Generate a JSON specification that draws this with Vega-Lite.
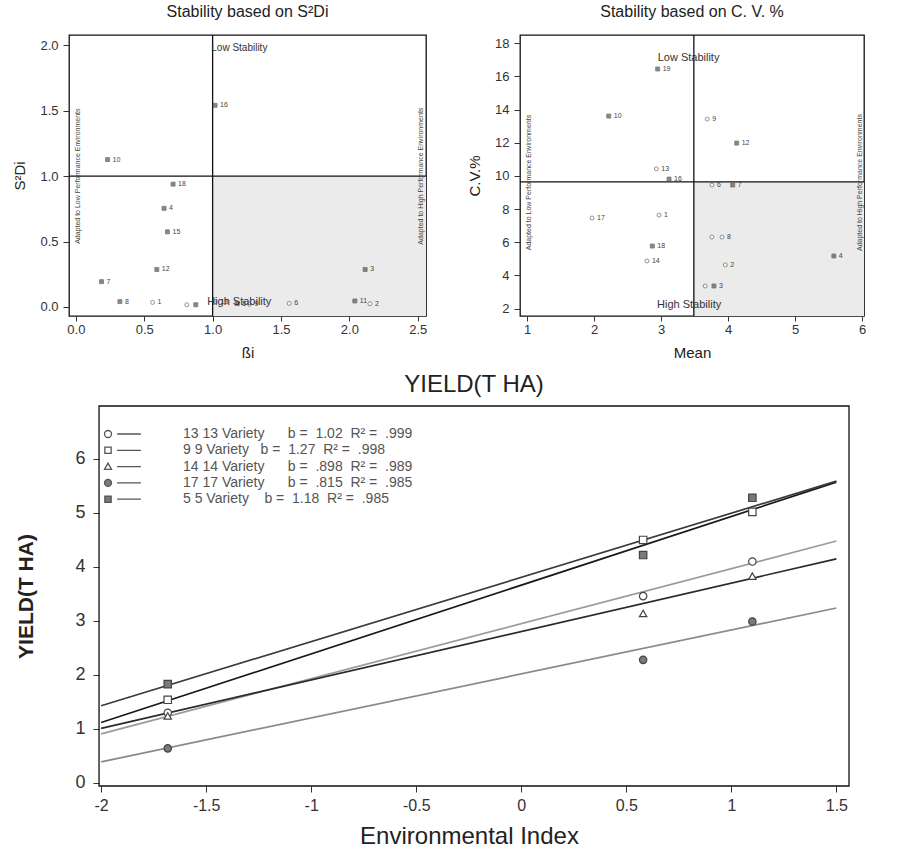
{
  "$schema": "https://vega.github.io/schema/vega-lite/v6.json",
  "padding": {"left": 12, "top": 3, "right": 5, "bottom": 0},
  "background": "white",
  "datasets": {
    "s2di": [
      {"g": "1", "bi": 0.561, "s2di": 0.034, "t": "open", "lab": "1"},
      {"g": "2", "bi": 2.15, "s2di": 0.024, "t": "open", "lab": "2"},
      {"g": "3", "bi": 2.115, "s2di": 0.286, "t": "filled", "lab": "3"},
      {"g": "4", "bi": 0.645, "s2di": 0.754, "t": "filled", "lab": "4"},
      {"g": "5", "bi": 1.18, "s2di": 0.025, "t": "filled", "lab": "5"},
      {"g": "6", "bi": 1.56, "s2di": 0.026, "t": "open", "lab": "6"},
      {"g": "7", "bi": 0.188, "s2di": 0.193, "t": "filled", "lab": "7"},
      {"g": "8", "bi": 0.322, "s2di": 0.04, "t": "filled", "lab": "8"},
      {"g": "9", "bi": 1.27, "s2di": 0.02, "t": "open", "lab": "9"},
      {"g": "10", "bi": 0.232, "s2di": 1.127, "t": "filled", "lab": "10"},
      {"g": "11", "bi": 2.04, "s2di": 0.045, "t": "filled", "lab": "11"},
      {"g": "12", "bi": 0.592, "s2di": 0.286, "t": "filled", "lab": "12"},
      {"g": "13", "bi": 1.02, "s2di": 0.04, "t": "open", "lab": "13"},
      {"g": "14", "bi": 0.877, "s2di": 0.016, "t": "filled", "lab": ""},
      {"g": "15", "bi": 0.67, "s2di": 0.574, "t": "filled", "lab": "15"},
      {"g": "16", "bi": 1.018, "s2di": 1.542, "t": "filled", "lab": "16"},
      {"g": "17", "bi": 0.811, "s2di": 0.016, "t": "open", "lab": ""},
      {"g": "18", "bi": 0.711, "s2di": 0.939, "t": "filled", "lab": "18"}
    ],
    "cv": [
      {"g": "1", "mean": 2.97, "cv": 7.64, "t": "open", "lab": "1"},
      {"g": "2", "mean": 3.96, "cv": 4.63, "t": "open", "lab": "2"},
      {"g": "3", "mean": 3.79, "cv": 3.36, "t": "filled", "lab": "3"},
      {"g": "4", "mean": 5.58, "cv": 5.17, "t": "filled", "lab": "4"},
      {"g": "5", "mean": 3.66, "cv": 3.36, "t": "open", "lab": ""},
      {"g": "6", "mean": 3.76, "cv": 9.45, "t": "open", "lab": "6"},
      {"g": "7", "mean": 4.07, "cv": 9.45, "t": "filled", "lab": "7"},
      {"g": "8", "mean": 3.91, "cv": 6.31, "t": "open", "lab": "8"},
      {"g": "9", "mean": 3.69, "cv": 13.43, "t": "open", "lab": "9"},
      {"g": "10", "mean": 2.22, "cv": 13.61, "t": "filled", "lab": "10"},
      {"g": "11", "mean": 3.76, "cv": 6.31, "t": "open", "lab": ""},
      {"g": "12", "mean": 4.13, "cv": 11.98, "t": "filled", "lab": "12"},
      {"g": "13", "mean": 2.93, "cv": 10.42, "t": "open", "lab": "13"},
      {"g": "14", "mean": 2.79, "cv": 4.87, "t": "open", "lab": "14"},
      {"g": "16", "mean": 3.12, "cv": 9.81, "t": "filled", "lab": "16"},
      {"g": "17", "mean": 1.97, "cv": 7.46, "t": "open", "lab": "17"},
      {"g": "18", "mean": 2.87, "cv": 5.77, "t": "filled", "lab": "18"},
      {"g": "19", "mean": 2.95, "cv": 16.45, "t": "filled", "lab": "19"}
    ],
    "fits": [
      {"v": "13", "x1": -2, "y1": 0.91, "x2": 1.5, "y2": 4.48},
      {"v": "9", "x1": -2, "y1": 1.12, "x2": 1.5, "y2": 5.57},
      {"v": "14", "x1": -2, "y1": 1.01, "x2": 1.5, "y2": 4.15},
      {"v": "17", "x1": -2, "y1": 0.39, "x2": 1.5, "y2": 3.24},
      {"v": "5", "x1": -2, "y1": 1.43, "x2": 1.5, "y2": 5.59}
    ],
    "yields": [
      {"v": "13", "ei": -1.683, "yld": 1.3},
      {"v": "13", "ei": 0.58, "yld": 3.46},
      {"v": "13", "ei": 1.1, "yld": 4.1},
      {"v": "9", "ei": -1.683, "yld": 1.54},
      {"v": "9", "ei": 0.58, "yld": 4.5},
      {"v": "9", "ei": 1.1, "yld": 5.02},
      {"v": "14", "ei": -1.683, "yld": 1.24},
      {"v": "14", "ei": 0.58, "yld": 3.14},
      {"v": "14", "ei": 1.1, "yld": 3.83},
      {"v": "17", "ei": -1.683, "yld": 0.64},
      {"v": "17", "ei": 0.58, "yld": 2.28},
      {"v": "17", "ei": 1.1, "yld": 2.99},
      {"v": "5", "ei": -1.683, "yld": 1.83},
      {"v": "5", "ei": 0.58, "yld": 4.22},
      {"v": "5", "ei": 1.1, "yld": 5.28}
    ],
    "legend": [
      {"lab": "13\u00a013 Variety\u00a0\u00a0\u00a0\u00a0\u00a0\u00a0b =\u00a0\u00a01.02\u00a0\u00a0R² =\u00a0\u00a0.999"},
      {"lab": "9\u00a09 Variety\u00a0\u00a0\u00a0b =\u00a0\u00a01.27\u00a0\u00a0R² =\u00a0\u00a0.998"},
      {"lab": "14\u00a014 Variety\u00a0\u00a0\u00a0\u00a0\u00a0\u00a0b =\u00a0\u00a0.898\u00a0\u00a0R² =\u00a0\u00a0.989"},
      {"lab": "17\u00a017 Variety\u00a0\u00a0\u00a0\u00a0\u00a0\u00a0b =\u00a0\u00a0.815\u00a0\u00a0R² =\u00a0\u00a0.985"},
      {"lab": "5\u00a05 Variety\u00a0\u00a0\u00a0\u00a0b =\u00a0\u00a01.18\u00a0\u00a0R² =\u00a0\u00a0.985"}
    ]
  },
  "spacing": 12,
  "vconcat": [
    {
      "spacing": 38,
      "hconcat": [
        {
          "width": 357,
          "height": 281,
          "title": {"text": "Stability based on S²Di", "fontSize": 16, "offset": 14},
          "layer": [
            {
              "data": {"values": [{}]},
              "mark": {"type": "rect", "fill": "#ebebeb"},
              "encoding": {
                "x": {"datum": 1.0, "type": "quantitative"},
                "x2": {"datum": 2.56},
                "y": {"datum": -0.07, "type": "quantitative"},
                "y2": {"datum": 1.0}
              }
            },
            {
              "data": {"values": [{}]},
              "mark": {"type": "rule", "color": "#111", "strokeWidth": 1.3},
              "encoding": {"x": {"datum": 1.0, "type": "quantitative"}}
            },
            {
              "data": {"values": [{}]},
              "mark": {"type": "rule", "color": "#111", "strokeWidth": 1.3},
              "encoding": {"y": {"datum": 1.0, "type": "quantitative"}}
            },
            {
              "data": {"name": "s2di"},
              "mark": {"type": "point", "filled": true, "size": 16, "stroke": "#444", "strokeWidth": 0.8},
              "encoding": {
                "x": {"field": "bi", "type": "quantitative", "scale": {"domain": [-0.05, 2.56], "nice": false, "zero": false},
                  "axis": {"values": [0, 0.5, 1, 1.5, 2, 2.5], "tickCount": 20, "format": ".1f", "title": "ßi", "labelFontSize": 13, "titleFontSize": 15, "tickSize": 5, "labelPadding": 2, "titlePadding": 9, "labelOverlap": false}},
                "y": {"field": "s2di", "type": "quantitative", "scale": {"domain": [-0.07, 2.08], "nice": false, "zero": false},
                  "axis": {"values": [0, 0.5, 1, 1.5, 2], "tickCount": 20, "format": ".1f", "title": "S²Di", "labelFontSize": 13, "titleFontSize": 15, "tickSize": 6, "labelPadding": 5, "titlePadding": 12, "labelOverlap": false}},
                "shape": {"field": "t", "type": "nominal", "scale": {"domain": ["filled", "open"], "range": ["square", "circle"]}, "legend": null},
                "fill": {"field": "t", "type": "nominal", "scale": {"domain": ["filled", "open"], "range": ["#555555", "#ffffff"]}, "legend": null}
              }
            },
            {
              "data": {"name": "s2di"},
              "mark": {"type": "text", "align": "left", "baseline": "middle", "dx": 5, "fontSize": 7, "color": "#444"},
              "encoding": {
                "x": {"field": "bi", "type": "quantitative"},
                "y": {"field": "s2di", "type": "quantitative"},
                "text": {"field": "lab"}
              }
            },
            {
              "data": {"values": [{}]},
              "mark": {"type": "text", "text": "Low Stability", "align": "left", "baseline": "middle", "fontSize": 10, "color": "#333"},
              "encoding": {"x": {"datum": 0.99, "type": "quantitative"}, "y": {"datum": 1.98, "type": "quantitative"}}
            },
            {
              "data": {"values": [{}]},
              "mark": {"type": "text", "text": "High Stability", "align": "left", "baseline": "middle", "fontSize": 11, "color": "#333"},
              "encoding": {"x": {"datum": 0.96, "type": "quantitative"}, "y": {"datum": 0.04, "type": "quantitative"}}
            },
            {
              "data": {"values": [{}]},
              "mark": {"type": "text", "text": "Adapted to Low Performance Environments", "angle": 270, "align": "center", "baseline": "middle", "fontSize": 7, "color": "#444"},
              "encoding": {"x": {"datum": 0.015, "type": "quantitative"}, "y": {"datum": 1.0, "type": "quantitative"}}
            },
            {
              "data": {"values": [{}]},
              "mark": {"type": "text", "text": "Adapted to High Performance Environments", "angle": 270, "align": "center", "baseline": "middle", "fontSize": 7, "color": "#444"},
              "encoding": {"x": {"datum": 2.52, "type": "quantitative"}, "y": {"datum": 1.0, "type": "quantitative"}}
            }
          ]
        },
        {
          "width": 344,
          "height": 281,
          "title": {"text": "Stability based on C. V. %", "fontSize": 16, "offset": 14},
          "layer": [
            {
              "data": {"values": [{}]},
              "mark": {"type": "rect", "fill": "#ebebeb"},
              "encoding": {
                "x": {"datum": 3.49, "type": "quantitative"},
                "x2": {"datum": 6.03},
                "y": {"datum": 1.55, "type": "quantitative"},
                "y2": {"datum": 9.64}
              }
            },
            {
              "data": {"values": [{}]},
              "mark": {"type": "rule", "color": "#111", "strokeWidth": 1.3},
              "encoding": {"x": {"datum": 3.49, "type": "quantitative"}}
            },
            {
              "data": {"values": [{}]},
              "mark": {"type": "rule", "color": "#111", "strokeWidth": 1.3},
              "encoding": {"y": {"datum": 9.64, "type": "quantitative"}}
            },
            {
              "data": {"name": "cv"},
              "mark": {"type": "point", "filled": true, "size": 16, "stroke": "#444", "strokeWidth": 0.8},
              "encoding": {
                "x": {"field": "mean", "type": "quantitative", "scale": {"domain": [0.895, 6.03], "nice": false, "zero": false},
                  "axis": {"values": [1, 2, 3, 4, 5, 6], "tickCount": 20, "format": "d", "title": "Mean", "labelFontSize": 13, "titleFontSize": 15, "tickSize": 5, "labelPadding": 2, "titlePadding": 9, "labelOverlap": false}},
                "y": {"field": "cv", "type": "quantitative", "scale": {"domain": [1.55, 18.5], "nice": false, "zero": false},
                  "axis": {"values": [2, 4, 6, 8, 10, 12, 14, 16, 18], "tickCount": 20, "format": "d", "title": "C.V.%", "labelFontSize": 13, "titleFontSize": 15, "tickSize": 6, "labelPadding": 5, "titlePadding": 12, "labelOverlap": false}},
                "shape": {"field": "t", "type": "nominal", "scale": {"domain": ["filled", "open"], "range": ["circle", "square"]}, "legend": null},
                "fill": {"field": "t", "type": "nominal", "scale": {"domain": ["filled", "open"], "range": ["#555555", "#ffffff"]}, "legend": null}
              }
            },
            {
              "data": {"name": "cv"},
              "mark": {"type": "text", "align": "left", "baseline": "middle", "dx": 5, "fontSize": 7, "color": "#444"},
              "encoding": {
                "x": {"field": "mean", "type": "quantitative"},
                "y": {"field": "cv", "type": "quantitative"},
                "text": {"field": "lab"}
              }
            },
            {
              "data": {"values": [{}]},
              "mark": {"type": "text", "text": "Low Stability", "align": "left", "baseline": "middle", "fontSize": 11, "color": "#333"},
              "encoding": {"x": {"datum": 2.95, "type": "quantitative"}, "y": {"datum": 17.11, "type": "quantitative"}}
            },
            {
              "data": {"values": [{}]},
              "mark": {"type": "text", "text": "High Stability", "align": "left", "baseline": "middle", "fontSize": 11, "color": "#333"},
              "encoding": {"x": {"datum": 2.94, "type": "quantitative"}, "y": {"datum": 2.23, "type": "quantitative"}}
            },
            {
              "data": {"values": [{}]},
              "mark": {"type": "text", "text": "Adapted to Low Performance Environments", "angle": 270, "align": "center", "baseline": "middle", "fontSize": 7, "color": "#444"},
              "encoding": {"x": {"datum": 1.03, "type": "quantitative"}, "y": {"datum": 9.6, "type": "quantitative"}}
            },
            {
              "data": {"values": [{}]},
              "mark": {"type": "text", "text": "Adapted to High Performance Environments", "angle": 270, "align": "center", "baseline": "middle", "fontSize": 7, "color": "#444"},
              "encoding": {"x": {"datum": 5.97, "type": "quantitative"}, "y": {"datum": 9.6, "type": "quantitative"}}
            }
          ]
        }
      ]
    },
    {
      "width": 780,
      "height": 380,
      "view": {"stroke": null},
      "title": {"text": "YIELD(T HA)", "fontSize": 24, "offset": 8, "dx": 15},
      "resolve": {"scale": {"shape": "independent", "fill": "independent"}},
      "layer": [
        {
          "data": {"values": [{}]},
          "mark": {"type": "rect", "fill": null, "filled": false, "stroke": "#111", "strokeWidth": 1.3},
          "encoding": {
            "x": {"datum": -2.01, "type": "quantitative"},
            "x2": {"datum": 1.56},
            "y": {"datum": -0.056, "type": "quantitative"},
            "y2": {"datum": 6.98}
          }
        },
        {
          "data": {"name": "fits"},
          "mark": {"type": "rule", "strokeWidth": 1.7},
          "encoding": {
            "x": {"field": "x1", "type": "quantitative", "scale": {"domain": [-2.153, 1.56], "nice": false, "zero": false},
              "axis": {"values": [-2, -1.5, -1, -0.5, 0, 0.5, 1, 1.5], "tickCount": 20, "labelExpr": "toString(datum.value)", "title": "Environmental Index", "titleX": 400, "labelFontSize": 16, "titleFontSize": 24, "tickSize": 6, "labelPadding": 5, "titlePadding": 11, "labelOverlap": false}},
            "y": {"field": "y1", "type": "quantitative", "scale": {"domain": [-0.056, 6.98], "nice": false, "zero": false},
              "axis": {"values": [0, 1, 2, 3, 4, 5, 6], "tickCount": 20, "format": "d", "title": "YIELD(T HA)", "offset": -30, "labelFontSize": 18, "titleFontSize": 21, "titleFontWeight": "bold", "tickSize": 6, "labelPadding": 8, "titlePadding": 38, "labelOverlap": false}},
            "x2": {"field": "x2"},
            "y2": {"field": "y2"},
            "color": {"field": "v", "type": "nominal", "scale": {"domain": ["13", "9", "14", "17", "5"], "range": ["#9a9a9a", "#1a1a1a", "#2a2a2a", "#8a8a8a", "#3a3a3a"]}, "legend": null}
          }
        },
        {
          "data": {"name": "yields"},
          "mark": {"type": "point", "filled": true, "size": 55, "stroke": "#444", "strokeWidth": 1.2, "opacity": 1},
          "encoding": {
            "x": {"field": "ei", "type": "quantitative"},
            "y": {"field": "yld", "type": "quantitative"},
            "shape": {"field": "v", "type": "nominal", "scale": {"domain": ["13", "9", "14", "17", "5"], "range": ["circle", "square", "triangle-up", "circle", "square"]}, "legend": null},
            "fill": {"field": "v", "type": "nominal", "scale": {"domain": ["13", "9", "14", "17", "5"], "range": ["#ffffff", "#ffffff", "#ffffff", "#7a7a7a", "#7a7a7a"]}, "legend": null}
          }
        },
        {
          "data": {"name": "legend"},
          "mark": {"type": "point", "filled": true, "opacity": 0, "stroke": "#444", "strokeWidth": 1.2},
          "encoding": {
            "shape": {"field": "lab", "type": "nominal",
              "scale": {
                "domain": [
                  "13\u00a013 Variety\u00a0\u00a0\u00a0\u00a0\u00a0\u00a0b =\u00a0\u00a01.02\u00a0\u00a0R² =\u00a0\u00a0.999",
                  "9\u00a09 Variety\u00a0\u00a0\u00a0b =\u00a0\u00a01.27\u00a0\u00a0R² =\u00a0\u00a0.998",
                  "14\u00a014 Variety\u00a0\u00a0\u00a0\u00a0\u00a0\u00a0b =\u00a0\u00a0.898\u00a0\u00a0R² =\u00a0\u00a0.989",
                  "17\u00a017 Variety\u00a0\u00a0\u00a0\u00a0\u00a0\u00a0b =\u00a0\u00a0.815\u00a0\u00a0R² =\u00a0\u00a0.985",
                  "5\u00a05 Variety\u00a0\u00a0\u00a0\u00a0b =\u00a0\u00a01.18\u00a0\u00a0R² =\u00a0\u00a0.985"
                ],
                "range": [
                  "M-1,0A1,1,0,1,0,1,0A1,1,0,1,0,-1,0Z M2.6,0L9.4,0",
                  "M-0.9,-0.9L0.9,-0.9L0.9,0.9L-0.9,0.9Z M2.6,0L9.4,0",
                  "M0,-1L1,0.8L-1,0.8Z M2.6,0L9.4,0",
                  "M-1,0A1,1,0,1,0,1,0A1,1,0,1,0,-1,0Z M2.6,0L9.4,0",
                  "M-0.9,-0.9L0.9,-0.9L0.9,0.9L-0.9,0.9Z M2.6,0L9.4,0"
                ]
              },
              "legend": {"title": null, "orient": "none", "legendX": 32, "legendY": 21, "labelFontSize": 14, "labelColor": "#555", "labelOffset": 68, "labelLimit": 400, "symbolSize": 49, "symbolStrokeColor": "#444", "symbolStrokeWidth": 1.2, "symbolOpacity": 1, "rowPadding": 2.3,
                "encode": {"symbols": {"update": {"stroke": {"value": "#555"}, "strokeWidth": {"value": 1.3}, "opacity": {"value": 1}}}}}
            },
            "fill": {"field": "lab", "type": "nominal",
              "scale": {
                "domain": [
                  "13\u00a013 Variety\u00a0\u00a0\u00a0\u00a0\u00a0\u00a0b =\u00a0\u00a01.02\u00a0\u00a0R² =\u00a0\u00a0.999",
                  "9\u00a09 Variety\u00a0\u00a0\u00a0b =\u00a0\u00a01.27\u00a0\u00a0R² =\u00a0\u00a0.998",
                  "14\u00a014 Variety\u00a0\u00a0\u00a0\u00a0\u00a0\u00a0b =\u00a0\u00a0.898\u00a0\u00a0R² =\u00a0\u00a0.989",
                  "17\u00a017 Variety\u00a0\u00a0\u00a0\u00a0\u00a0\u00a0b =\u00a0\u00a0.815\u00a0\u00a0R² =\u00a0\u00a0.985",
                  "5\u00a05 Variety\u00a0\u00a0\u00a0\u00a0b =\u00a0\u00a01.18\u00a0\u00a0R² =\u00a0\u00a0.985"
                ],
                "range": ["#ffffff", "#ffffff", "#ffffff", "#7a7a7a", "#7a7a7a"]
              },
              "legend": {"title": null, "orient": "none", "legendX": 32, "legendY": 21, "labelFontSize": 14, "labelColor": "#555", "labelOffset": 68, "labelLimit": 400, "symbolSize": 49, "symbolStrokeColor": "#444", "symbolStrokeWidth": 1.2, "symbolOpacity": 1, "rowPadding": 2.3,
                "encode": {"symbols": {"update": {"stroke": {"value": "#555"}, "strokeWidth": {"value": 1.3}, "opacity": {"value": 1}}}}}
            }
          }
        }
      ]
    }
  ],
  "config": {
    "view": {"stroke": "#111", "strokeWidth": 1.3},
    "font": "Liberation Sans",
    "axis": {"grid": false, "domain": false, "tickColor": "#333", "labelColor": "#333", "titleColor": "#222", "labelFont": "Liberation Sans", "titleFont": "Liberation Sans", "titleFontWeight": "normal"},
    "title": {"font": "Liberation Sans", "fontWeight": "normal", "color": "#222"},
    "text": {"font": "Liberation Sans"},
    "legend": {"labelFont": "Liberation Sans"}
  }
}
